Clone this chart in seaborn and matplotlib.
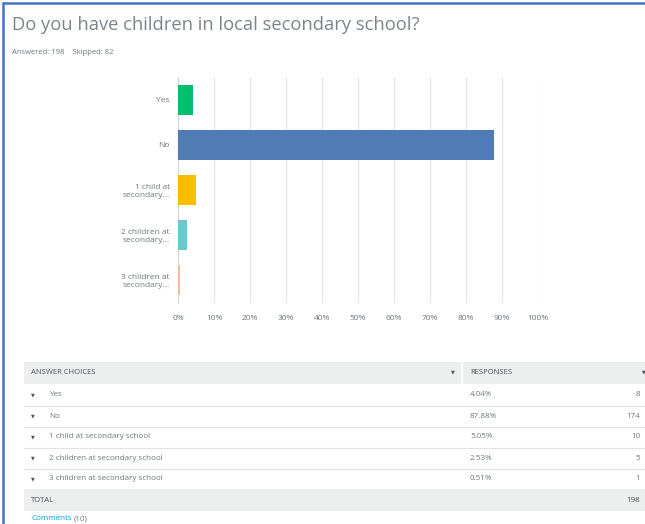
import matplotlib
matplotlib.use("Agg")
import matplotlib.pyplot as plt
import seaborn as sns
import pandas as pd
from matplotlib.patches import Rectangle
from matplotlib.lines import Line2D

title = "Do you have children in local secondary school?"
answered = 198
skipped = 82

choices = ["Yes", "No", "1 child at secondary school",
           "2 children at secondary school", "3 children at secondary school"]
axis_labels = ["Yes", "No", "1 child at\nsecondary...",
               "2 children at\nsecondary...", "3 children at\nsecondary..."]
percents = [4.04, 87.88, 5.05, 2.53, 0.51]
counts = [8, 174, 10, 5, 1]
bar_colors = ["#00BF6F", "#507CB6", "#F9BE00", "#6BC8CD", "#F9B99E"]
xticks = [0, 10, 20, 30, 40, 50, 60, 70, 80, 90, 100]

W, H = 645, 524
def fx(x):
    return x / W
def fy(y):
    return 1 - y / H

sns.set_theme(style="white")
plt.rcParams["font.family"] = ["Open Sans", "DejaVu Sans"]

fig = plt.figure(figsize=(W / 100, H / 100), dpi=100)
fig.patch.set_facecolor("white")

# chart
ax = fig.add_axes([fx(178), fy(303), fx(538) - fx(178), fy(77) - fy(303)])
df = pd.DataFrame({"label": axis_labels, "pct": percents})
sns.barplot(data=df, x="pct", y="label", hue="label", palette=bar_colors,
            saturation=1, orient="h", width=0.66, legend=False, ax=ax,
            linewidth=0, zorder=3)
ax.set_xlim(0, 100)
ax.set_ylim(4.5, -0.5)
ax.set_xticks(xticks)
ax.set_xticklabels([f"{t}%" for t in xticks], fontsize=6, color="#6B787F")
ax.tick_params(axis="y", labelsize=6, labelcolor="#6B787F", length=0, pad=6)
ax.tick_params(axis="x", length=0, pad=9)
for lab in ax.get_yticklabels():
    lab.set_horizontalalignment("right")
ax.set_xlabel("")
ax.set_ylabel("")
ax.grid(axis="x", color="#E4E4E4", linewidth=0.9, zorder=0)
for s in ["top", "right", "bottom"]:
    ax.spines[s].set_visible(False)
ax.spines["left"].set_color("#D6D6D6")
ax.spines["left"].set_linewidth(0.9)

# heading
fig.text(fx(12), fy(25), title, fontsize=13.2, color="#7A858B",
         ha="left", va="center")
fig.text(fx(12), fy(52), f"Answered: {answered}    Skipped: {skipped}",
         fontsize=5.5, color="#6B787F", ha="left", va="center")

# table
txt = "#6B787F"
fig.add_artist(Rectangle((fx(24), fy(384)), fx(645) - fx(24), (384 - 362) / H,
                         transform=fig.transFigure, facecolor="#EDEEEE",
                         edgecolor="none"))
fig.add_artist(Line2D([fx(462), fx(462)], [fy(362), fy(384)], color="white",
                      linewidth=1.2))
fig.text(fx(31), fy(373), "ANSWER CHOICES", fontsize=5.5, color="#4A5559",
         ha="left", va="center")
fig.text(fx(470), fy(373), "RESPONSES", fontsize=5.5, color="#4A5559",
         ha="left", va="center")
fig.text(fx(453), fy(372), "▼", fontsize=3.5, color="#4A5559",
         ha="center", va="center", family="DejaVu Sans")
fig.text(fx(644), fy(372), "▼", fontsize=3.5, color="#4A5559",
         ha="center", va="center", family="DejaVu Sans")

row_y = [395, 416, 437, 458, 479]
for i, y in enumerate(row_y):
    fig.text(fx(33), fy(y), "▼", fontsize=3.5, color="#4A5559",
             ha="center", va="center", family="DejaVu Sans")
    fig.text(fx(49), fy(y), choices[i], fontsize=5.8, color=txt,
             ha="left", va="center")
    fig.text(fx(470), fy(y), f"{percents[i]:.2f}%", fontsize=5.8, color=txt,
             ha="left", va="center")
    fig.text(fx(640), fy(y), str(counts[i]), fontsize=5.8, color=txt,
             ha="right", va="center")
    if i < len(row_y) - 1:
        fig.add_artist(Line2D([fx(24), fx(645)], [fy(y + 10.5), fy(y + 10.5)],
                              color="#E2E2E2", linewidth=0.9))

fig.add_artist(Rectangle((fx(24), fy(511)), fx(645) - fx(24), (511 - 489) / H,
                         transform=fig.transFigure, facecolor="#EDEEEE",
                         edgecolor="none"))
fig.text(fx(31), fy(500), "TOTAL", fontsize=5.5, color="#4A5559",
         ha="left", va="center")
fig.text(fx(640), fy(500), str(sum(counts)), fontsize=5.8, color="#4A5559",
         ha="right", va="center")
fig.text(fx(31), fy(519), "Comments", fontsize=5.8, color="#00A0E0",
         ha="left", va="center")
fig.text(fx(74), fy(519), "(10)", fontsize=5.8, color=txt,
         ha="left", va="center")

# screenshot border
fig.add_artist(Line2D([fx(3), fx(3)], [0, fy(3)], color="#4472C4", linewidth=1.8))
fig.add_artist(Line2D([fx(3), 1], [fy(3), fy(3)], color="#4472C4", linewidth=1.8))

fig.savefig("out.png", dpi=100, facecolor="white")
